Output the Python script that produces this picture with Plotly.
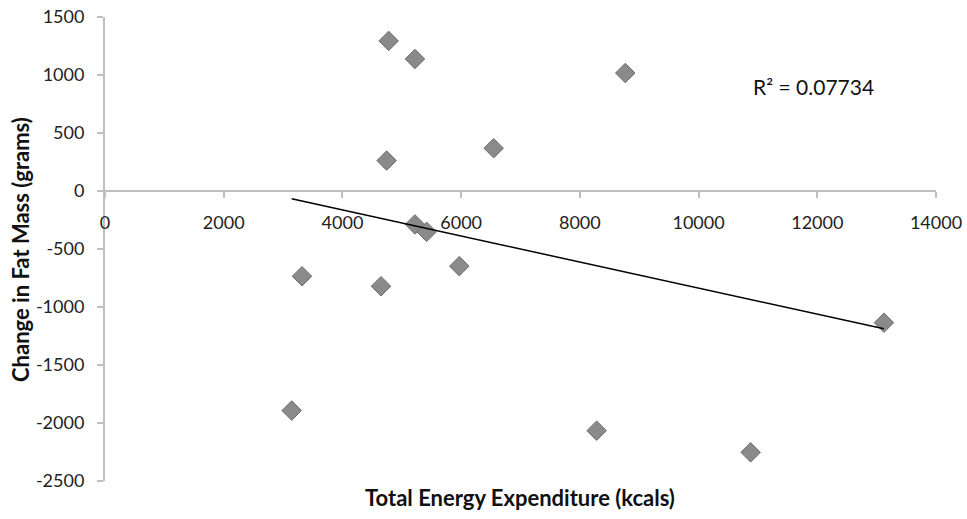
import numpy as np
import plotly.graph_objects as go

# Data
energy_kcal = [4779, 5222, 8765, 4745, 6548, 5222, 5419, 5969, 3319, 4650, 3145, 8283, 10877, 13123]
fat_change_g = [1294, 1138, 1017, 262, 369, -288, -352, -648, -735, -821, -1893, -2066, -2253, -1135]
x_ticks = [0, 2000, 4000, 6000, 8000, 10000, 12000, 14000]
y_ticks = [1500, 1000, 500, 0, -500, -1000, -1500, -2000, -2500]
r2_label = "R² = 0.07734"
x_title = "Total Energy Expenditure (kcals)"
y_title = "Change in Fat Mass (grams)"

x_range = [0, 14000]
y_range = [-2500, 1500]

# Linear trendline (least squares) over the data span
slope, intercept = np.polyfit(energy_kcal, fat_change_g, 1)
tx = np.array([min(energy_kcal), max(energy_kcal)])
ty = slope * tx + intercept

FONT = "Lato, 'Open Sans', sans-serif"
AXIS_GREY = "#bfbfbf"

fig = go.Figure()
fig.add_trace(go.Scatter(
    x=energy_kcal, y=fat_change_g, mode="markers",
    marker=dict(symbol="diamond", size=15, color="#8a8a8a",
                line=dict(color="#6c6c6c", width=1)),
    showlegend=False, hoverinfo="x+y"))
fig.add_trace(go.Scatter(
    x=tx, y=ty, mode="lines", line=dict(color="black", width=1.5),
    showlegend=False, hoverinfo="skip"))

zero_pos = (0 - y_range[0]) / (y_range[1] - y_range[0])

fig.update_layout(
    width=967, height=519,
    margin=dict(l=105, r=31, t=17, b=38),
    paper_bgcolor="white", plot_bgcolor="white",
    font=dict(family=FONT, size=18, color="#222222"),
    xaxis=dict(range=x_range, tickvals=x_ticks, ticktext=[str(v) for v in x_ticks],
               showgrid=False, zeroline=False, automargin=False,
               showline=True, linecolor=AXIS_GREY, linewidth=2,
               ticks="outside", ticklen=6, tickcolor=AXIS_GREY, tickwidth=2,
               anchor="free", position=zero_pos, ticklabelstandoff=9,
               ticklabeloverflow="allow",
               tickfont=dict(size=18, family=FONT, color="#222222")),
    yaxis=dict(range=y_range, tickvals=y_ticks, ticktext=[str(v) for v in y_ticks],
               showgrid=False, zeroline=False, automargin=False,
               showline=True, linecolor=AXIS_GREY, linewidth=2,
               ticks="outside", ticklen=6, tickcolor=AXIS_GREY, tickwidth=2,
               ticklabelstandoff=9, ticklabeloverflow="allow",
               tickfont=dict(size=18, family=FONT, color="#222222")),
    annotations=[
        dict(text="<b>" + x_title + "</b>", xref="paper", yref="paper",
             x=0.4994, y=-0.0345, xanchor="center", yanchor="middle", showarrow=False,
             font=dict(size=22, family=FONT, color="#111111")),
        dict(text="<b>" + y_title + "</b>", xref="paper", yref="paper",
             x=-0.1023, y=0.5, xanchor="center", yanchor="middle", showarrow=False,
             textangle=-90,
             font=dict(size=22, family=FONT, color="#111111")),
        dict(text=r2_label, xref="x", yref="y", x=11944, y=899,
             xanchor="center", yanchor="middle", showarrow=False,
             font=dict(size=21, family=FONT, color="#111111")),
    ],
)

# Remove the browser's default page margin so the figure fills the window exactly
fig.write_html("out.html",
               config={"displayModeBar": False},
               post_script="document.body.style.margin='0';document.body.style.overflow='hidden';")
